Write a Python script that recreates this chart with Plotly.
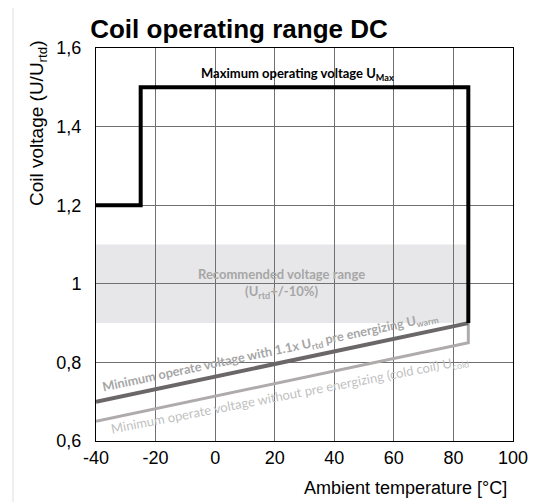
import plotly.graph_objects as go

# ---- data ----
umax_x = [-40, -25, -25, 85, 85]
umax_y = [1.2, 1.2, 1.5, 1.5, 0.9]

uwarm_x = [-40, 85]
uwarm_y = [0.7, 0.9]

ucold_x = [-40, 85, 85]
ucold_y = [0.65, 0.85, 0.9]

band_x = [-40, 85]
band_y = [0.9, 1.1]

x_ticks = [-40, -20, 0, 20, 40, 60, 80, 100]
x_tick_labels = ["-40", "-20", "0", "20", "40", "60", "80", "100"]
y_ticks = [0.6, 0.8, 1.0, 1.2, 1.4, 1.6]
y_tick_labels = ["0,6", "0,8", "1", "1,2", "1,4", "1,6"]

# page body has an 8px margin; compensate so the figure fills the window
OFF = 8
W, H = 542 - OFF, 502 - OFF
ML, MR, MT, MB = 96 - OFF, 29, 48 - OFF, 61
PW, PH = W - ML - MR, H - MT - MB


def px(x):
    return (x - OFF - ML) / PW


def py(y):
    return (H - MB - (y - OFF)) / PH


fig = go.Figure()

fig.add_trace(go.Scatter(x=ucold_x, y=ucold_y, mode="lines",
                         line=dict(color="#afabab", width=3), hoverinfo="skip"))
fig.add_trace(go.Scatter(x=uwarm_x, y=uwarm_y, mode="lines",
                         line=dict(color="#6b6768", width=4), hoverinfo="skip"))
fig.add_trace(go.Scatter(x=umax_x, y=umax_y, mode="lines",
                         line=dict(color="#000000", width=4), hoverinfo="skip"))

shapes = [
    dict(type="rect", xref="x", yref="y", x0=band_x[0], x1=band_x[1],
         y0=band_y[0], y1=band_y[1], fillcolor="#e7e7e9", line=dict(width=0),
         layer="below"),
    dict(type="rect", xref="paper", yref="paper", x0=px(13), x1=px(537),
         y0=py(520), y1=py(7), line=dict(color="#dedede", width=1),
         fillcolor="rgba(0,0,0,0)", layer="below"),
]

ann_font = "Lato"
annotations = [
    dict(x=27.5, y=1.534, xref="x", yref="y", showarrow=False,
         text="<b>Maximum operating voltage U<sub>Max</sub></b>",
         font=dict(family=ann_font, size=13, color="#000000")),
    dict(x=22.4, y=1.0, xref="x", yref="y", showarrow=False,
         text="<b>Recommended voltage range<br>(U<sub>rtd</sub>+/-10%)</b>",
         font=dict(family=ann_font, size=13, color="#a6a6a6")),
    dict(x=18.4, y=0.826, xref="x", yref="y", showarrow=False, textangle=-12,
         text="<b>Minimum operate voltage with 1.1x U<sub>rtd</sub> pre energizing U<sub>warm</sub></b>",
         font=dict(family=ann_font, size=12.7, color="#a6a6a6")),
    dict(x=25.1, y=0.717, xref="x", yref="y", showarrow=False, textangle=-11,
         text="Minimum operate voltage without pre energizing (cold coil) U<sub>cold</sub>",
         font=dict(family=ann_font, size=13, color="#bfbfbf")),
    dict(x=px(38), y=py(124), xref="paper", yref="paper", showarrow=False,
         textangle=-90, xanchor="center", yanchor="middle",
         text="Coil voltage (U/U<sub>rtd</sub>)",
         font=dict(family="Liberation Sans", size=19, color="#000000")),
    dict(x=px(509), y=py(488), xref="paper", yref="paper", showarrow=False,
         xanchor="right", yanchor="middle",
         text="Ambient temperature [°C]",
         font=dict(family="Liberation Sans", size=18, color="#000000")),
]

fig.update_layout(
    width=W, height=H,
    margin=dict(l=ML, r=MR, t=MT, b=MB),
    paper_bgcolor="white", plot_bgcolor="white",
    showlegend=False,
    title=dict(text="<b>Coil operating range DC</b>", x=(239 - OFF) / W,
               xanchor="center", y=1 - (29 - OFF) / H, yanchor="middle",
               font=dict(family="Liberation Sans", size=26, color="#000000")),
    shapes=shapes,
    annotations=annotations,
)

fig.update_xaxes(range=[-40, 100], tickvals=x_ticks, ticktext=x_tick_labels,
                 showgrid=True, gridcolor="#707070", gridwidth=1,
                 showline=True, linecolor="#000000", linewidth=1, mirror=True,
                 zeroline=False, ticks="", ticklabelstandoff=0,
                 tickfont=dict(family="Liberation Sans", size=18, color="#000000"))
fig.update_yaxes(range=[0.6, 1.6], tickvals=y_ticks, ticktext=y_tick_labels,
                 showgrid=True, gridcolor="#707070", gridwidth=1,
                 showline=True, linecolor="#000000", linewidth=1, mirror=True,
                 zeroline=False, ticks="", ticklabelstandoff=10,
                 tickfont=dict(family="Liberation Sans", size=18, color="#000000"))

fig.write_html("out.html")
